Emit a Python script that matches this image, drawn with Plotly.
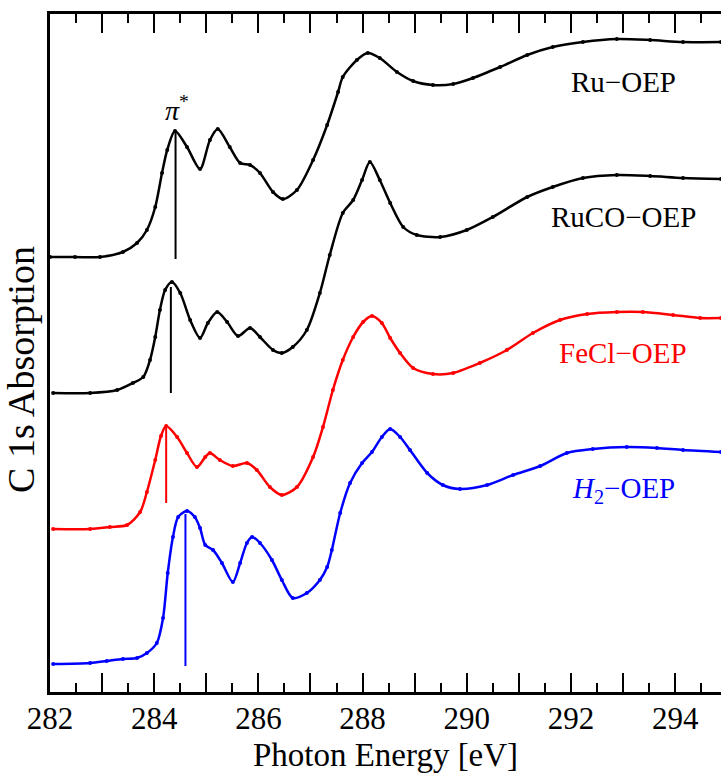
import plotly.graph_objects as go

# C 1s NEXAFS spectra of octaethylporphyrin (OEP) compounds, stacked vertically
energy_ru = [282.00, 282.48, 282.96, 283.40, 283.67, 283.86, 284.02, 284.15, 284.25, 284.40,
             284.63, 284.88, 285.07, 285.22, 285.45, 285.65, 285.84, 286.03, 286.28, 286.47,
             286.74, 287.05, 287.32, 287.53, 287.62, 287.89, 288.10, 288.33, 288.66, 288.97,
             289.35, 289.74, 290.12, 290.64, 291.16, 291.65, 292.23, 292.88, 293.52, 294.15, 294.88]
absorb_ru = [4.35, 4.35, 4.35, 4.40, 4.49, 4.62, 4.85, 5.19, 5.42, 5.61,
             5.45, 5.23, 5.52, 5.63, 5.45, 5.29, 5.27, 5.19, 5.00, 4.93,
             5.02, 5.32, 5.67, 6.00, 6.15, 6.32, 6.39, 6.34, 6.20, 6.11,
             6.07, 6.08, 6.14, 6.25, 6.37, 6.45, 6.50, 6.53, 6.52, 6.50, 6.50]

energy_ruco = [282.06, 282.77, 283.29, 283.59, 283.79, 283.92, 284.02, 284.11, 284.21, 284.34,
               284.50, 284.69, 284.88, 285.03, 285.21, 285.40, 285.61, 285.84, 286.03, 286.28,
               286.45, 286.66, 286.93, 287.18, 287.37, 287.62, 287.82, 287.99, 288.14, 288.33,
               288.53, 288.78, 289.04, 289.49, 290.00, 290.50, 291.16, 291.65, 292.23, 292.88,
               293.52, 294.15, 294.88]
absorb_ruco = [2.99, 2.99, 3.02, 3.09, 3.15, 3.32, 3.55, 3.82, 4.02, 4.10,
               3.99, 3.72, 3.54, 3.69, 3.80, 3.70, 3.56, 3.64, 3.55, 3.42,
               3.39, 3.45, 3.62, 3.99, 4.37, 4.79, 4.92, 5.12, 5.30, 5.12,
               4.89, 4.65, 4.57, 4.55, 4.62, 4.75, 4.95, 5.05, 5.14, 5.17,
               5.16, 5.14, 5.13]

energy_fecl = [282.06, 282.77, 283.15, 283.48, 283.73, 283.86, 284.02, 284.13, 284.23, 284.44,
               284.63, 284.82, 284.98, 285.07, 285.26, 285.51, 285.78, 285.97, 286.22, 286.45,
               286.74, 287.05, 287.24, 287.43, 287.62, 287.82, 288.01, 288.18, 288.37, 288.53,
               288.72, 288.97, 289.35, 289.74, 290.25, 290.77, 291.27, 291.79, 292.31, 292.88,
               293.38, 293.96, 294.48, 294.88]
absorb_fecl = [1.63, 1.63, 1.65, 1.67, 1.80, 2.00, 2.32, 2.56, 2.66, 2.55,
               2.39, 2.25, 2.35, 2.39, 2.32, 2.26, 2.29, 2.22, 2.05, 1.97,
               2.05, 2.35, 2.65, 3.02, 3.32, 3.55, 3.70, 3.76, 3.69, 3.54,
               3.39, 3.24, 3.18, 3.19, 3.29, 3.42, 3.59, 3.72, 3.78, 3.80,
               3.80, 3.77, 3.74, 3.74]

energy_h2 = [282.06, 282.77, 283.09, 283.40, 283.67, 283.86, 284.05, 284.17, 284.26, 284.36,
             284.46, 284.63, 284.78, 284.88, 284.98, 285.13, 285.30, 285.51, 285.65, 285.78,
             285.88, 286.03, 286.26, 286.45, 286.66, 286.93, 287.18, 287.32, 287.41, 287.57,
             287.76, 287.99, 288.18, 288.37, 288.53, 288.72, 288.91, 289.24, 289.54, 289.87,
             290.39, 290.89, 291.41, 291.92, 292.42, 293.07, 293.65, 294.15, 294.88]
absorb_h2 = [0.28, 0.29, 0.31, 0.33, 0.34, 0.39, 0.49, 0.74, 1.19, 1.55,
             1.75, 1.81, 1.75, 1.64, 1.47, 1.42, 1.29, 1.10, 1.29, 1.49,
             1.55, 1.49, 1.32, 1.12, 0.94, 0.99, 1.12, 1.25, 1.42, 1.79,
             2.09, 2.29, 2.40, 2.55, 2.63, 2.55, 2.42, 2.19, 2.07, 2.03,
             2.07, 2.17, 2.26, 2.39, 2.43, 2.45, 2.44, 2.42, 2.40]

# pi* resonance markers: energy, bottom and top of the vertical bar
pi_energy = [284.41, 284.32, 284.23, 284.60]
pi_bottom = [4.33, 2.99, 1.89, 0.26]
pi_top = [5.60, 4.05, 2.64, 1.78]

labels = ["Ru\u2212OEP", "RuCO\u2212OEP", "FeCl\u2212OEP", "<i>H</i><sub>2</sub>\u2212OEP"]
label_y = [6.10, 4.75, 3.39, 2.02]
colors = ["black", "black", "#ff0000", "#0000ff"]

energies = [energy_ru, energy_ruco, energy_fecl, energy_h2]
absorbs = [absorb_ru, absorb_ruco, absorb_fecl, absorb_h2]

FONT = "Liberation Serif"

fig = go.Figure()
for e, a, c in zip(energies, absorbs, colors):
    fig.add_trace(go.Scatter(
        x=e, y=a, mode="lines+markers",
        line=dict(color=c, width=2.5, shape="spline", smoothing=0.8),
        marker=dict(color=c, size=4),
        showlegend=False, hoverinfo="skip"))

for xe, yb, yt, c in zip(pi_energy, pi_bottom, pi_top, colors):
    fig.add_trace(go.Scatter(
        x=[xe, xe], y=[yb, yt], mode="lines",
        line=dict(color=c, width=2), showlegend=False, hoverinfo="skip"))

for txt, ly, c in zip(labels, label_y, colors):
    fig.add_annotation(x=293.0, y=ly, text=txt, showarrow=False,
                       font=dict(family=FONT, size=29, color=c))

fig.add_annotation(x=284.44, y=5.84, text="<i>\u03c0</i><sup>*</sup>", showarrow=False,
                   font=dict(family=FONT, size=28, color="black"))

# vertical axis title, placed slightly below the plot centre
fig.add_annotation(xref="paper", yref="paper", x=0, y=0.475, xshift=-29,
                   text="C 1s Absorption", textangle=-90, showarrow=False,
                   xanchor="center", yanchor="middle",
                   font=dict(family=FONT, size=38, color="black"))

# long ticks every 1 eV (labelled every 2 eV), short ticks every 0.5 eV
fig.update_xaxes(
    range=[282, 294.88], tickmode="linear", tick0=282, dtick=1, ticklabelstep=2,
    ticks="inside", ticklen=19, tickwidth=2, tickcolor="black",
    minor=dict(dtick=0.5, tick0=282, ticks="inside", ticklen=9, tickwidth=2, tickcolor="black"),
    showline=True, linewidth=3, linecolor="black", mirror="ticks",
    showgrid=False, zeroline=False, ticklabelstandoff=-3,
    tickfont=dict(family=FONT, size=31, color="black"),
    title=dict(text="Photon Energy [eV]", font=dict(family=FONT, size=33, color="black"), standoff=8))

fig.update_yaxes(
    range=[0, 6.78], showticklabels=False, ticks="",
    showline=True, linewidth=3, linecolor="black", mirror=False,
    showgrid=False, zeroline=False)

fig.update_layout(
    width=721, height=777, template="none",
    margin=dict(l=50, r=0, t=14, b=85),
    paper_bgcolor="white", plot_bgcolor="white")

fig.write_html("out.html")
